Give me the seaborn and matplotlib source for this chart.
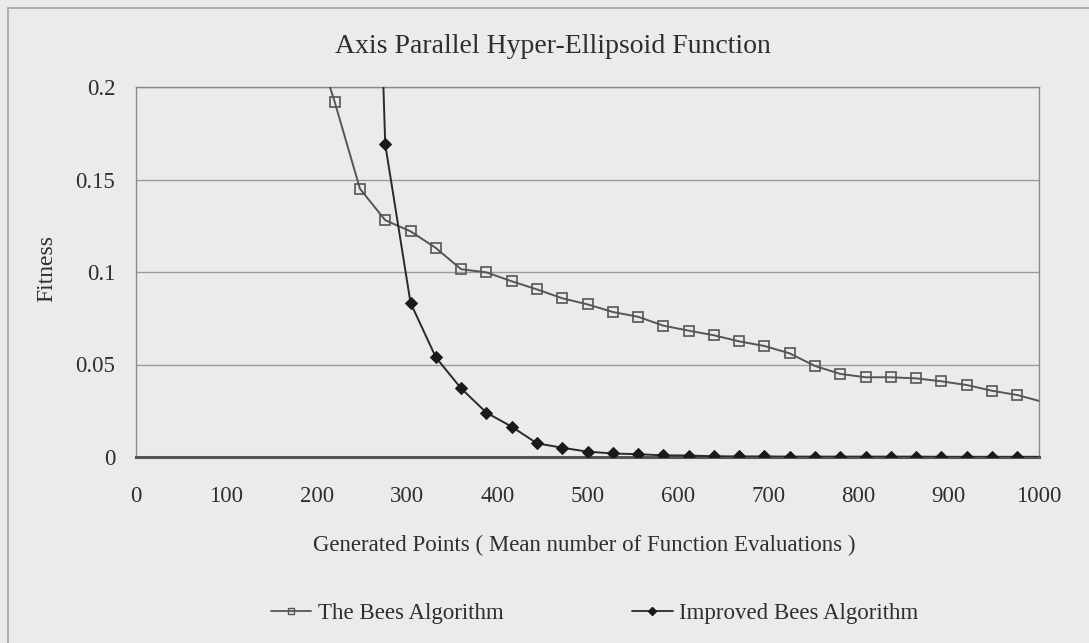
import matplotlib
matplotlib.use("Agg")
import matplotlib.pyplot as plt
import seaborn as sns
import pandas as pd
from matplotlib.lines import Line2D

# ---- data ----
bees_x = [192, 220, 248, 276, 304, 332, 360, 388, 416, 444, 472, 500, 528, 556,
          584, 612, 640, 668, 696, 724, 752, 780, 808, 836, 864, 892, 920, 948,
          976, 1004]
bees_y = [0.235, 0.192, 0.145, 0.128, 0.122, 0.113, 0.1015, 0.0998, 0.095, 0.0906,
          0.0858, 0.0825, 0.0784, 0.0758, 0.071, 0.0683, 0.0658, 0.0625, 0.060,
          0.056, 0.0492, 0.0449, 0.0431, 0.0431, 0.0425, 0.0409, 0.0389, 0.0358,
          0.0335, 0.0298]
imp_x = [248, 276, 304, 332, 360, 388, 416, 444, 472, 500, 528, 556, 584, 612,
         640, 668, 696, 724, 752, 780, 808, 836, 864, 892, 920, 948, 976, 1004]
imp_y = [0.60, 0.169, 0.0834, 0.0539, 0.0371, 0.024, 0.0164, 0.0074, 0.005,
         0.0029, 0.0019, 0.0015, 0.0009, 0.0008, 0.0004, 0.0003, 0.0003, 0.0002,
         0.0002, 0.0002, 0.0002, 0.0002, 0.0002, 0.0001, 0.0001, 0.0001, 0.0001,
         0.0001]
x_ticks = [0, 100, 200, 300, 400, 500, 600, 700, 800, 900, 1000]
y_ticks = [0, 0.05, 0.1, 0.15, 0.2]
y_tick_labels = ["0", "0.05", "0.1", "0.15", "0.2"]
title = "Axis Parallel Hyper-Ellipsoid Function"
xlabel = "Generated Points ( Mean number of Function Evaluations )"
ylabel = "Fitness"
series_names = ["The Bees Algorithm", "Improved Bees Algorithm"]

sns.set_theme(style="white")
plt.rcParams['font.family'] = ['Liberation Serif', 'DejaVu Serif']

bg = "#ebebeb"
txt = "#2e2e2e"
W, H = 1089, 643
fig = plt.figure(figsize=(W / 100, H / 100), dpi=100, facecolor=bg)
ax = fig.add_axes([136 / W, 1 - 457 / H, (1039 - 136) / W, (457 - 87) / H])
ax.set_facecolor(bg)

df_b = pd.DataFrame({"x": bees_x, "y": bees_y})
df_i = pd.DataFrame({"x": imp_x, "y": imp_y})

bees_col = "#555555"
imp_col = "#2a2a2a"
sns.lineplot(data=df_b, x="x", y="y", ax=ax, color=bees_col, lw=1.4,
             marker="s", markersize=7, markerfacecolor="none",
             markeredgecolor=bees_col, markeredgewidth=1.2,
             markevery=list(range(1, len(bees_x) - 1)), zorder=3)
sns.lineplot(data=df_i, x="x", y="y", ax=ax, color=imp_col, lw=1.4,
             marker="D", markersize=6, markerfacecolor="#1a1a1a",
             markeredgecolor="#1a1a1a",
             markevery=list(range(1, len(imp_x) - 1)), zorder=4)

ax.set_xlim(0, 1000)
ax.set_ylim(0, 0.2)
ax.set_xticks(x_ticks)
ax.set_xticklabels([str(t) for t in x_ticks], fontsize=16.5)
ax.set_yticks(y_ticks)
ax.set_yticklabels(y_tick_labels, fontsize=16.5)
ax.tick_params(axis="x", direction="out", length=6, width=1, color="#999999",
               pad=15, labelcolor=txt)
ax.tick_params(axis="y", direction="out", length=6, width=1, color="#999999",
               pad=9, labelcolor=txt)
ax.yaxis.grid(True, color="#9a9a9a", lw=1)
ax.xaxis.grid(False)
for s in ["top", "right", "left"]:
    ax.spines[s].set_color("#8a8a8a")
    ax.spines[s].set_linewidth(1)
ax.spines["bottom"].set_color("#555555")
ax.spines["bottom"].set_linewidth(2.2)
ax.set_xlabel("")
ax.set_ylabel("")

fig.text(584 / W, 1 - 551 / H, xlabel, ha="center", va="baseline",
         fontsize=16.5, color=txt)
fig.text(47 / W, 1 - 268 / H, ylabel, ha="center", va="center",
         rotation=90, fontsize=17, color=txt)
fig.text(553 / W, 1 - 53 / H, title, ha="center", va="baseline",
         fontsize=20, color=txt)

handles = [
    Line2D([], [], color=bees_col, lw=1.3, marker="s", markersize=4.5,
           markerfacecolor="none", markeredgecolor=bees_col),
    Line2D([], [], color=imp_col, lw=1.3, marker="D", markersize=4.5,
           markerfacecolor="#1a1a1a", markeredgecolor="#1a1a1a"),
]
fig.legend(handles, series_names, loc="center", bbox_to_anchor=(595 / W, 1 - 613 / H),
           ncol=2, frameon=False, fontsize=16.5, columnspacing=5.6,
           handlelength=1.75, handletextpad=0.3, labelcolor=txt,
           borderpad=0, borderaxespad=0)

# chart-area frame (top and left edges visible in the reference)
fig.add_artist(Line2D([8 / W, 8 / W], [0, 1 - 8 / H], transform=fig.transFigure,
                      color="#a5a5a5", lw=1.2))
fig.add_artist(Line2D([8 / W, 1], [1 - 8 / H, 1 - 8 / H], transform=fig.transFigure,
                      color="#a5a5a5", lw=1.2))

fig.savefig("out.png", dpi=100, facecolor=bg)
